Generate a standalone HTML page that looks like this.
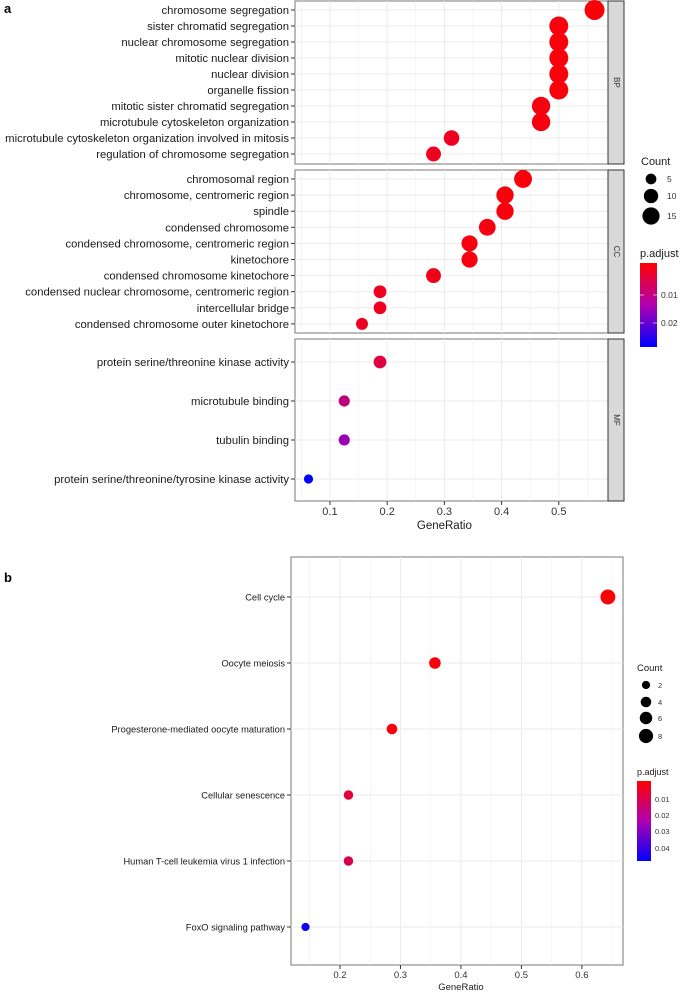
<!DOCTYPE html>
<html><head><meta charset="utf-8"><style>
html,body{margin:0;padding:0;background:#fff}
svg{display:block;font-family:"Liberation Sans",sans-serif}
</style></head><body>
<svg id="s" width="680" height="992" viewBox="0 0 680 992"></svg>
<script>
// ----- Panel a data -----
const bpTerms=["chromosome segregation","sister chromatid segregation","nuclear chromosome segregation","mitotic nuclear division","nuclear division","organelle fission","mitotic sister chromatid segregation","microtubule cytoskeleton organization","microtubule cytoskeleton organization involved in mitosis","regulation of chromosome segregation"];
const bpRatio=[0.5625,0.5,0.5,0.5,0.5,0.5,0.469,0.469,0.3125,0.281];
const bpCount=[18,16,16,16,16,16,15,15,10,9];
const bpP=[0.0005,0.0008,0.0008,0.0008,0.0008,0.0008,0.001,0.001,0.002,0.002];
const ccTerms=["chromosomal region","chromosome, centromeric region","spindle","condensed chromosome","condensed chromosome, centromeric region","kinetochore","condensed chromosome kinetochore","condensed nuclear chromosome, centromeric region","intercellular bridge","condensed chromosome outer kinetochore"];
const ccRatio=[0.4375,0.406,0.406,0.375,0.344,0.344,0.281,0.1875,0.1875,0.156];
const ccCount=[14,13,13,12,11,11,9,6,6,5];
const ccP=[0.0006,0.0008,0.0008,0.001,0.001,0.001,0.0015,0.002,0.002,0.002];
const mfTerms=["protein serine/threonine kinase activity","microtubule binding","tubulin binding","protein serine/threonine/tyrosine kinase activity"];
const mfRatio=[0.1875,0.125,0.125,0.0625];
const mfCount=[6,4,4,2];
const mfP=[0.004,0.009,0.016,0.028];
const aTicks=[0.1,0.2,0.3,0.4,0.5];
// ----- Panel b data -----
const kTerms=["Cell cycle","Oocyte meiosis","Progesterone-mediated oocyte maturation","Cellular senescence","Human T-cell leukemia virus 1 infection","FoxO signaling pathway"];
const kRatio=[0.643,0.357,0.286,0.214,0.214,0.143];
const kCount=[9,5,4,3,3,2];
const kP=[0.0005,0.0008,0.001,0.006,0.009,0.048];
const bTicks=[0.2,0.3,0.4,0.5,0.6];

const S=document.getElementById('s');const NS="http://www.w3.org/2000/svg";
function el(t,a,txt){const e=document.createElementNS(NS,t);for(const k in a)e.setAttribute(k,a[k]);if(txt!==undefined)e.textContent=txt;S.appendChild(e);return e;}
function col(p,pmax){const t=Math.min(1,p/pmax);const h=360-120*t;const l=50-15*Math.sin(Math.PI*t);return `hsl(${h%360},100%,${l}%)`;}
const ra=c=>Math.sqrt(11.4+4.9*c);
const rb=c=>Math.sqrt(6+5.5*c);

// panel a scale
const axL=295,axR=608,v0=0.0389,v1=0.586;
const xa=v=>axL+(v-v0)/(v1-v0)*(axR-axL);
function facet(y0,y1,terms,ratio,count,pv,rowY,label,pmax){
  el('rect',{x:axL,y:y0,width:axR-axL,height:y1-y0,fill:'#fff',stroke:'#777','stroke-width':1});
  for(let v=0.05;v<0.59;v+=0.05){const g=el('line',{x1:xa(v),x2:xa(v),y1:y0,y2:y1,stroke:'#ebebeb','stroke-width':Math.abs(v*10-Math.round(v*10))<0.01?1:0.5});}
  terms.forEach((t,i)=>{const y=rowY(i);
    el('line',{x1:axL,x2:axR,y1:y,y2:y,stroke:'#ebebeb'});
    el('line',{x1:axL-4,x2:axL,y1:y,y2:y,stroke:'#333'});
    const tx=el('text',{x:axL-6,y:y+4,'text-anchor':'end','font-size':11.3,fill:'#1a1a1a'},t);
    
    const c=el('circle',{cx:xa(ratio[i]),cy:y,r:ra(count[i]),fill:col(pv[i],pmax)});
    
  });
  el('rect',{x:axR,y:y0,width:16,height:y1-y0,fill:'#d9d9d9',stroke:'#333','stroke-width':1});
  const cy=(y0+y1)/2;
  el('text',{x:axR+8,y:cy,'font-size':8,fill:'#333','text-anchor':'middle',transform:`rotate(90 ${axR+8} ${cy})`,'dominant-baseline':'middle'},label);
}
facet(1,164,bpTerms,bpRatio,bpCount,bpP,i=>10+i*16,'BP',0.03);
facet(170,333,ccTerms,ccRatio,ccCount,ccP,i=>179+i*16.1,'CC',0.03);
facet(339,501,mfTerms,mfRatio,mfCount,mfP,i=>362+i*39,'MF',0.028);
aTicks.forEach(v=>{el('line',{x1:xa(v),x2:xa(v),y1:501,y2:505,stroke:'#333'});const t=el('text',{x:xa(v),y:515,'text-anchor':'middle','font-size':11,fill:'#333'},v.toFixed(1));});
el('text',{x:xa(0.3),y:529,'text-anchor':'middle','font-size':11.5,fill:'#1a1a1a'},'GeneRatio');
el('text',{x:4,y:13,'font-size':13,'font-weight':'bold'},'a');
// legend a
el('text',{x:641,y:165,'font-size':11,fill:'#1a1a1a'},'Count');
[[5,179],[10,196],[15,216]].forEach(([c,y])=>{el('circle',{cx:651,cy:y,r:ra(c)-0.6,fill:'#000'});el('text',{x:667,y:y+3,'font-size':8.5,fill:'#333'},c);});
el('text',{x:640,y:257,'font-size':11,fill:'#1a1a1a'},'p.adjust');
const dg=el('defs',{});dg.innerHTML='<linearGradient id="g" x1="0" y1="0" x2="0" y2="1"><stop offset="0" stop-color="#f00"/><stop offset="0.5" stop-color="#b000b0"/><stop offset="1" stop-color="#00f"/></linearGradient>';
el('rect',{x:640,y:263,width:17,height:84,fill:'url(#g)'});
[['0.01',295],['0.02',323]].forEach(([l,y])=>{el('line',{x1:640,x2:644,y1:y,y2:y,stroke:'#fff','stroke-opacity':0.6});el('line',{x1:653,x2:657,y1:y,y2:y,stroke:'#fff','stroke-opacity':0.6});el('text',{x:661,y:y+3,'font-size':8.5,fill:'#333'},l);});

// panel b
const bL=291,bR=623,w0=0.119,w1=0.668,bT=557,bB=965;
const xb=v=>bL+(v-w0)/(w1-w0)*(bR-bL);
el('rect',{x:bL,y:bT,width:bR-bL,height:bB-bT,fill:'#fff',stroke:'#777'});
for(let v=0.15;v<0.67;v+=0.05){el('line',{x1:xb(v),x2:xb(v),y1:bT,y2:bB,stroke:'#ebebeb','stroke-width':Math.abs(v*10-Math.round(v*10))<0.01?1:0.5});}
kTerms.forEach((t,i)=>{const y=597+i*66;
  el('line',{x1:bL,x2:bR,y1:y,y2:y,stroke:'#ebebeb'});
  el('line',{x1:bL-4,x2:bL,y1:y,y2:y,stroke:'#333'});
  const tx=el('text',{x:bL-6,y:y+3.5,'text-anchor':'end','font-size':9.3,fill:'#1a1a1a'},t);
  
  const c=el('circle',{cx:xb(kRatio[i]),cy:y,r:rb(kCount[i]),fill:col(kP[i],0.05)});
  
});
bTicks.forEach(v=>{el('line',{x1:xb(v),x2:xb(v),y1:bB,y2:bB+4,stroke:'#333'});el('text',{x:xb(v),y:978,'text-anchor':'middle','font-size':9.5,fill:'#333'},v.toFixed(1));});
el('text',{x:xb(0.4),y:990,'text-anchor':'middle','font-size':9.5,fill:'#1a1a1a'},'GeneRatio');
el('text',{x:4,y:582,'font-size':13,'font-weight':'bold'},'b');
el('text',{x:637,y:671,'font-size':9.5,fill:'#1a1a1a'},'Count');
[[2,685],[4,702],[6,718],[8,736]].forEach(([c,y])=>{el('circle',{cx:646,cy:y,r:rb(c),fill:'#000'});el('text',{x:658,y:y+3,'font-size':7.5,fill:'#333'},c);});
el('text',{x:637,y:775,'font-size':9,fill:'#1a1a1a'},'p.adjust');
el('rect',{x:637,y:781,width:14,height:80,fill:'url(#g)'});
[['0.01',799],['0.02',815],['0.03',831],['0.04',848]].forEach(([l,y])=>{el('text',{x:655,y:y+3,'font-size':7.5,fill:'#333'},l);});
</script>
</body></html>
